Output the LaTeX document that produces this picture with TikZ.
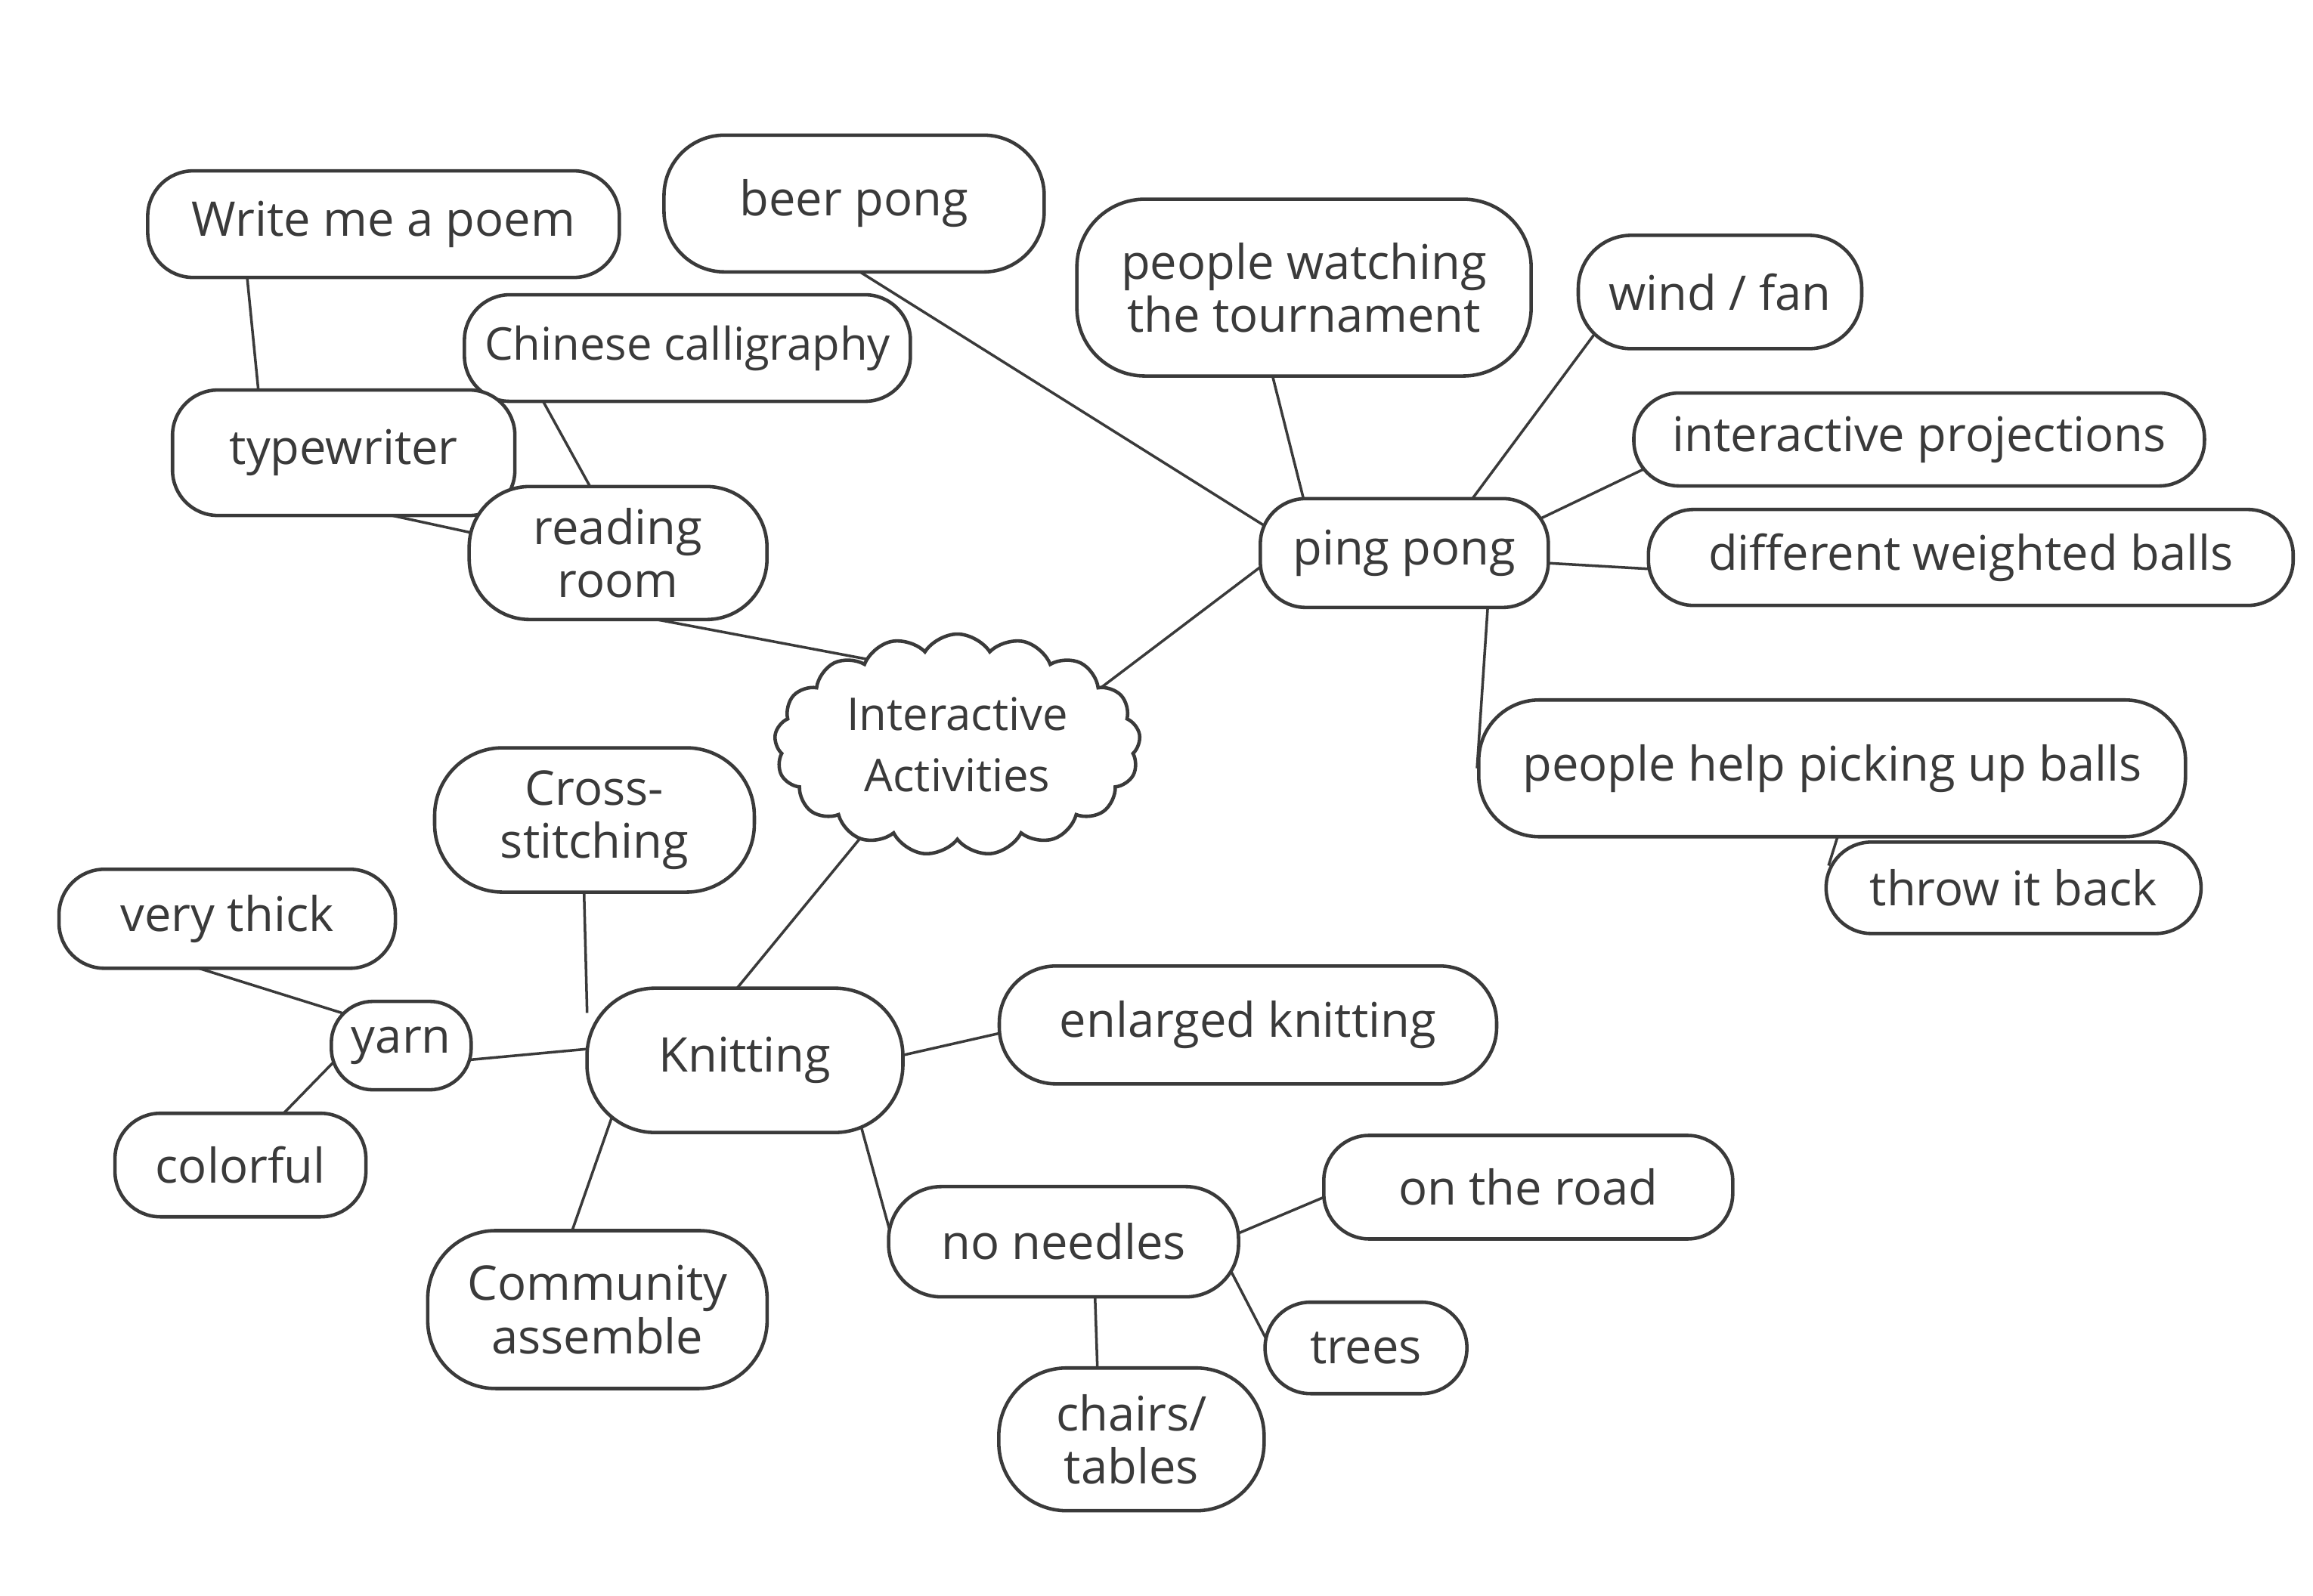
\documentclass[tikz,border=0pt]{standalone}
\usepackage{fontspec}
\setmainfont{Open Sans}
\usetikzlibrary{shapes,positioning,backgrounds}
\definecolor{ink}{HTML}{3A3A3A}

\begin{document}
\begin{tikzpicture}[x=0.019515cm,y=-0.019515cm]

  \useasboundingbox (0,0) rectangle (1568,1082);

  \coordinate (Center) at (649,505);
  \coordinate (Poem) at (260,152);
  \coordinate (Beer) at (579,138);
  \coordinate (Callig) at (466,236);
  \coordinate (Type) at (233,307);
  \coordinate (Read) at (419,375);
  \coordinate (Watch) at (884,195);
  \coordinate (Wind) at (1166,198);
  \coordinate (Proj) at (1301,298);
  \coordinate (Ping) at (952,375);
  \coordinate (Weight) at (1336,378);
  \coordinate (Pick) at (1242,521);
  \coordinate (Throw) at (1365,602);
  \coordinate (Cross) at (403,556);
  \coordinate (Thick) at (154,623);
  \coordinate (Yarn) at (272,709);
  \coordinate (Knit) at (505,719);
  \coordinate (Enlarge) at (846,695);
  \coordinate (Color) at (163,790);
  \coordinate (Needle) at (721,842);
  \coordinate (Road) at (1036,805);
  \coordinate (Commun) at (405,888);
  \coordinate (Trees) at (926,914);
  \coordinate (Chairs) at (767,976);

  \tikzstyle{bbox}=[draw=ink,line width=1.3pt,
                    shape=rectangle,rounded corners=0.6cm,
                    inner sep=2pt,fill=white,text=ink,align=center,
                    font=\fontsize{18}{20}\selectfont];
  \tikzstyle{cbox}=[draw=ink,line width=1.3pt,
                    shape=cloud,cloud puffs=17,cloud puff arc=115,
                    cloud ignores aspect,inner sep=0pt,
                    fill=white,text=ink,align=center,
                    font=\fontsize{17}{23}\selectfont];
  \tikzstyle{link}=[draw=ink,line width=1pt,
                    shorten <=-0.35cm,shorten >=-0.35cm];

  \node[cbox,minimum width=4.84cm,minimum height=2.93cm] (CenterBox) at (Center) {Interactive\\Activities};

  % reading corner
  \node[bbox,minimum width=6.24cm,minimum height=1.41cm] (PoemBox) at (Poem) {Write me a poem};
  \node[bbox,minimum width=5.90cm,minimum height=1.41cm,font=\fontsize{17}{20}\selectfont] (CalligBox) at (Callig) {Chinese calligraphy};
  \node[bbox,minimum width=4.53cm,minimum height=1.66cm] (TypeBox) at (Type) {typewriter};
  \node[bbox,minimum width=3.94cm,minimum height=1.76cm,rounded corners=0.8cm] (ReadBox) at (Read) {reading\\room};

  % ping pong corner
  \node[bbox,minimum width=5.03cm,minimum height=1.81cm,rounded corners=0.8cm] (BeerBox) at (Beer) {beer pong};
  \node[bbox,minimum width=6.01cm,minimum height=2.34cm,rounded corners=0.9cm] (WatchBox) at (Watch) {people watching\\the tournament};
  \node[bbox,minimum width=3.75cm,minimum height=1.50cm,rounded corners=0.7cm] (WindBox) at (Wind) {wind / fan};
  \node[bbox,minimum width=7.55cm,minimum height=1.23cm] (ProjBox) at (Proj) {interactive projections};
  \node[bbox,minimum width=3.81cm,minimum height=1.44cm] (PingBox) at (Ping) {ping pong};
  \node[bbox,minimum width=8.53cm,minimum height=1.27cm] (WeightBox) at (Weight) {different weighted balls};
  \node[bbox,minimum width=9.35cm,minimum height=1.81cm,rounded corners=0.8cm] (PickBox) at (Pick) {people help picking up balls};
  \node[bbox,minimum width=4.96cm,minimum height=1.21cm] (ThrowBox) at (Throw) {throw it back};

  % knitting corner
  \node[bbox,minimum width=4.23cm,minimum height=1.91cm,rounded corners=0.9cm] (CrossBox) at (Cross) {Cross-\\stitching};
  \node[bbox,minimum width=4.45cm,minimum height=1.31cm] (ThickBox) at (Thick) {very thick};
  \node[bbox,minimum width=1.85cm,minimum height=1.17cm,rounded corners=0.55cm] (YarnBox) at (Yarn) {yarn};
  \node[bbox,minimum width=4.18cm,minimum height=1.91cm,rounded corners=0.9cm] (KnitBox) at (Knit) {Knitting};
  \node[bbox,minimum width=6.58cm,minimum height=1.56cm,rounded corners=0.75cm] (EnlargeBox) at (Enlarge) {enlarged knitting};
  \node[bbox,minimum width=3.32cm,minimum height=1.37cm] (ColorBox) at (Color) {colorful};
  \node[bbox,minimum width=4.63cm,minimum height=1.46cm,rounded corners=0.7cm] (NeedleBox) at (Needle) {no needles};
  \node[bbox,minimum width=5.41cm,minimum height=1.37cm] (RoadBox) at (Road) {on the road};
  \node[bbox,minimum width=4.49cm,minimum height=2.09cm,rounded corners=0.9cm] (CommunBox) at (Commun) {Community\\assemble};
  \node[bbox,minimum width=2.67cm,minimum height=1.21cm] (TreesBox) at (Trees) {trees};
  \node[bbox,minimum width=3.51cm,minimum height=1.89cm,rounded corners=0.9cm] (ChairsBox) at (Chairs) {chairs/\\tables};

  \begin{scope}[on background layer]
    \draw[link] (PoemBox.202) -- (TypeBox.143);
    \draw[link] (TypeBox.311) -- (ReadBox.172);
    \draw[link] (CalligBox.201) -- (ReadBox.113);
    \draw[link] (ReadBox.305) -- (CenterBox.137);

    \draw[link] (BeerBox.277) -- (PingBox.168);
    \draw[link] (CenterBox.22) -- (PingBox.186);
    \draw[link] (WatchBox.251) -- (PingBox.151);
    \draw[link] (WindBox.203) -- (PingBox.39);
    \draw[link] (ProjBox.187) -- (PingBox.15);
    \draw[link] (WeightBox.182) -- (PingBox.356);
    \draw[link,shorten >=0pt] (PingBox.326) -- (PickBox.west);
    \draw[link] (PickBox.274) -- (ThrowBox.165);

    \draw[link] (CenterBox.224) -- (KnitBox.95);
    \draw[link] (CrossBox.262) -- (KnitBox.155);
    \draw[link] (ThickBox.246) -- (YarnBox.153);
    \draw[link] (YarnBox.349) -- (KnitBox.176);
    \draw[link] (ColorBox.50) -- (YarnBox.196);
    \draw[link] (KnitBox.2) -- (EnlargeBox.182);
    \draw[link] (KnitBox.208) -- (CommunBox.107);
    \draw[link] (KnitBox.328) -- (NeedleBox.173);
    \draw[link] (NeedleBox.3) -- (RoadBox.183);
    \draw[link] (NeedleBox.345) -- (TreesBox.172);
    \draw[link] (NeedleBox.299) -- (ChairsBox.115);
  \end{scope}

\end{tikzpicture}
\end{document}
